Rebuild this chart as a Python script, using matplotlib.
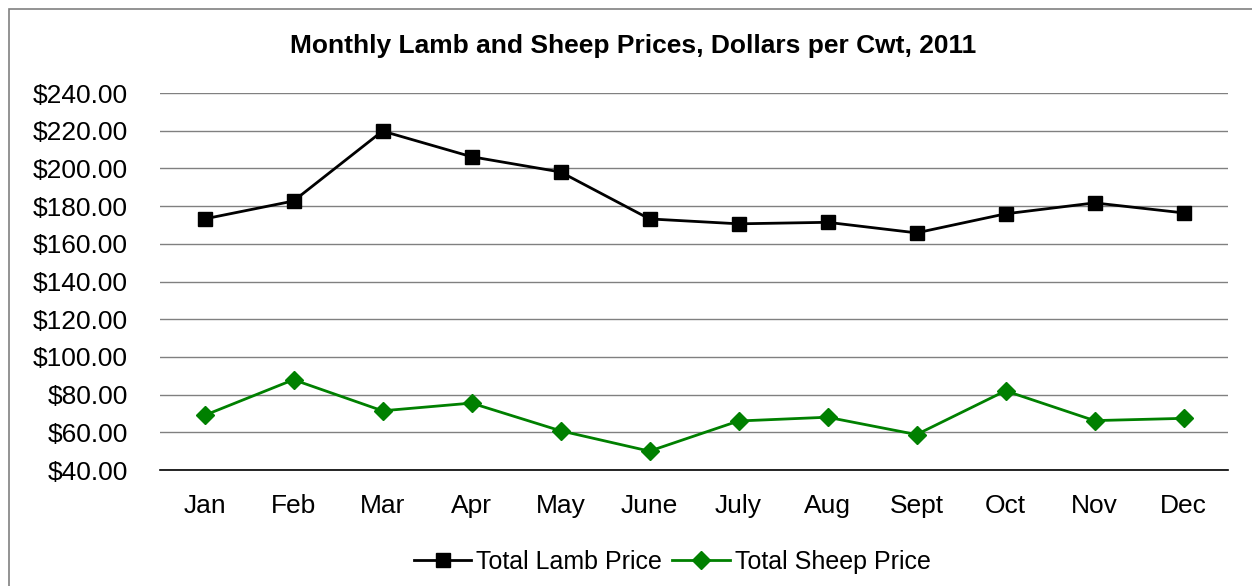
import matplotlib.pyplot as plt
from matplotlib.patches import Rectangle
import matplotlib.ticker as ticker

plt.rcParams['font.family'] = ['Liberation Sans', 'DejaVu Sans']

months = ["Jan", "Feb", "Mar", "Apr", "May", "June", "July", "Aug", "Sept", "Oct", "Nov", "Dec"]
lamb_price = [173.2, 182.7, 219.8, 206.2, 198.1, 173.2, 170.6, 171.4, 165.8, 175.9, 181.7, 176.4]
sheep_price = [69.0, 87.9, 71.4, 75.5, 60.8, 50.0, 66.0, 68.0, 58.8, 82.0, 66.2, 67.4]
y_ticks = [40, 60, 80, 100, 120, 140, 160, 180, 200, 220, 240]

fig = plt.figure(figsize=(12.52, 5.86), dpi=100)
ax = fig.add_axes([160 / 1252, 1 - 470 / 586, 1068 / 1252, 377 / 586])

# outer chart border (runs off the right and bottom edges)
fig.patches.append(Rectangle((9 / 1252, -0.1), 1.2, 1 - 9 / 586 + 0.1,
                             transform=fig.transFigure, fill=False,
                             edgecolor="#808080", linewidth=1.2))

x = list(range(len(months)))
ax.plot(x, lamb_price, color="black", linewidth=2, marker="s", markersize=10.5,
        label="Total Lamb Price", zorder=3)
ax.plot(x, sheep_price, color="#008000", linewidth=2, marker="D", markersize=9,
        label="Total Sheep Price", zorder=3)

ax.set_xlim(-0.5, len(months) - 0.5)
ax.set_ylim(40, 240)
ax.set_yticks(y_ticks)
ax.set_xticks(x)
ax.set_xticklabels(months)
ax.yaxis.set_major_formatter(ticker.FuncFormatter(lambda v, p: "${:.2f}".format(v)))
ax.grid(axis="y", color="#808080", linewidth=1)
ax.set_axisbelow(True)

for s in ["top", "right", "left"]:
    ax.spines[s].set_visible(False)
ax.spines["bottom"].set_color("black")
ax.spines["bottom"].set_linewidth(1.2)
ax.tick_params(axis="both", length=0, labelsize=19)
ax.tick_params(axis="y", pad=23)
ax.tick_params(axis="x", pad=17)

fig.text(0.506, 1 - 46 / 586, "Monthly Lamb and Sheep Prices, Dollars per Cwt, 2011",
         ha="center", va="center", fontsize=19, fontweight="bold")

fig.legend(loc="center", bbox_to_anchor=(0.537, 1 - 562 / 586), ncol=2, frameon=False,
           fontsize=18, handlelength=2.3, handletextpad=0.2, columnspacing=0.4)

fig.savefig("out.png", dpi=100)
